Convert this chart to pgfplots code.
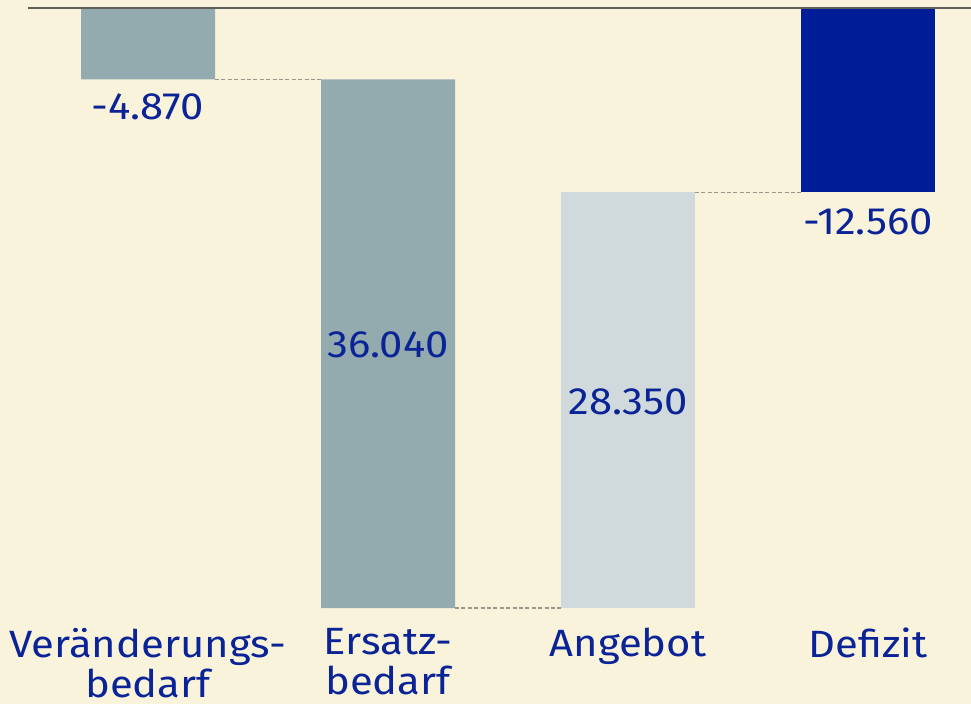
\documentclass[border=0pt]{standalone}
\usepackage{pgfplots}
\pgfplotsset{compat=1.18}
\usepackage{fontspec}
\setmainfont{Fira Sans}[FakeStretch=1.1]
\usetikzlibrary{backgrounds}
\definecolor{bg}{HTML}{F9F3DC}
\definecolor{barA}{HTML}{93AAAE}
\definecolor{barB}{HTML}{D0D9DC}
\definecolor{barC}{HTML}{001C96}
\definecolor{txt}{HTML}{0A2396}
\definecolor{zeroline}{HTML}{5E5E5A}
\definecolor{dashcol}{HTML}{9A968C}
\pgfplotsset{
  base/.style={
    x=120pt, y=7.33317pt,
    xmin=-0.5, xmax=3.4292, ymin=-40.91, ymax=0,
    clip=false,
    axis line style={draw=none},
    ytick=\empty,
    major tick length=0pt,
  }
}
\begin{document}
\begin{tikzpicture}
\begin{axis}[base,
  xtick=\empty,
  ybar stacked, stack negative=on previous, bar width=67pt,
]
\addplot[draw=none, fill=none] coordinates {(0,0) (1,-4.87) (2,-40.91) (3,-12.56)};
\addplot[draw=none, fill=barA] coordinates {(0,-4.87) (1,-36.04) (2,0) (3,0)};
\addplot[draw=none, fill=barB] coordinates {(0,0) (1,0) (2,28.35) (3,0)};
\addplot[draw=none, fill=barC] coordinates {(0,0) (1,0) (2,0) (3,12.56)};
\coordinate (bl) at (axis cs:-0.6167,-47.4556);
\coordinate (tr) at (axis cs:3.4292,0.5455);
\end{axis}
\begin{axis}[base,
  xtick={0,1,2,3},
  xticklabels={{Veränderungs-\\bedarf},{Ersatz-\\bedarf},Angebot,Defizit},
  xticklabel style={align=center, text=txt, font=\fontsize{19}{20}\selectfont, yshift=-6.5pt},
]
\addplot[zeroline, line width=1pt] coordinates {(-0.5,0) (3.4292,0)};
\addplot[dashcol, line width=0.6pt, dash pattern=on 2pt off 1.2pt] coordinates {(0.279,-4.87) (0.721,-4.87)};
\addplot[dashcol, line width=0.6pt, dash pattern=on 2pt off 1.2pt] coordinates {(1.279,-40.91) (1.721,-40.91)};
\addplot[dashcol, line width=0.6pt, dash pattern=on 2pt off 1.2pt] coordinates {(2.279,-12.56) (2.721,-12.56)};
\addplot[draw=none, nodes near coords, point meta=explicit symbolic,
  every node near coord/.style={anchor=center, text=txt, font=\fontsize{19}{20}\selectfont}]
  table[meta=lab, row sep=\\] {
  x y lab\\
  0 -6.75 -4.870\\
  1 -22.98 36.040\\
  2 -26.86 28.350\\
  3 -14.56 -12.560\\
};
\end{axis}
\begin{scope}[on background layer]
\fill[bg] (bl) rectangle (tr);
\end{scope}
\pgfresetboundingbox
\useasboundingbox (bl) rectangle (tr);
\end{tikzpicture}
\end{document}
